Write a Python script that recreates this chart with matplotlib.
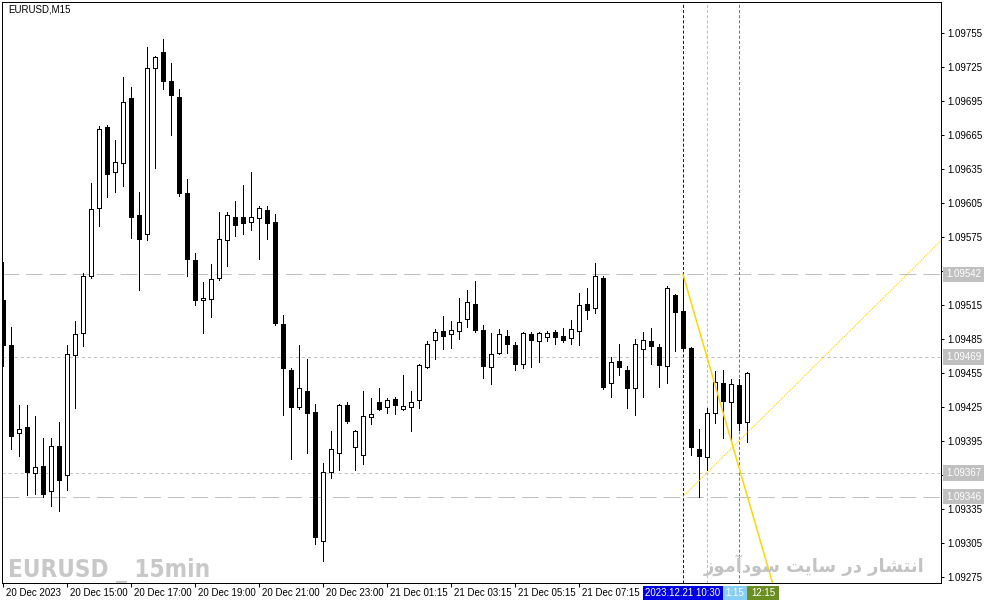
import matplotlib
matplotlib.use('Agg')
import matplotlib.pyplot as plt
import matplotlib.transforms as mtransforms
from matplotlib.patches import Rectangle
from matplotlib import font_manager
from matplotlib.font_manager import FontProperties
import numpy as np

# ---------------- data ----------------
opens = [
1.09519,1.09480,1.09402,1.09407,1.09367,1.09373,1.09351,1.09391,1.09365,1.09471,
1.09490,1.09541,1.09601,1.09672,1.09632,1.09640,1.09698,1.09594,1.09578,1.09724,
1.09738,1.09713,1.09699,1.09614,1.09555,1.09519,1.09520,1.09539,1.09572,1.09593,
1.09593,1.09588,1.09592,1.09599,1.09588,1.09498,1.09458,1.09425,1.09439,1.09421,
1.09307,1.09368,1.09384,1.09427,1.09390,1.09383,1.09416,1.09429,1.09425,1.09432,
1.09423,1.09425,1.09431,1.09460,1.09484,1.09492,1.09489,1.09492,1.09503,1.09516,
1.09493,1.09460,1.09473,1.09488,1.09480,1.09463,1.09489,1.09483,1.09487,1.09491,
1.09488,1.09486,1.09492,1.09516,1.09512,1.09539,1.09446,1.09466,1.09458,1.09442,
1.09476,1.09483,1.09478,1.09461,1.09524,1.09510,1.09477,1.09388,1.09381,1.09420,
1.09446,1.09429,1.09444,1.09412]
highs = [
1.09553,1.09496,1.09427,1.09427,1.09417,1.09398,1.09398,1.09412,1.09480,1.09501,
1.09543,1.09623,1.09673,1.09674,1.09661,1.09716,1.09707,1.09615,1.09743,1.09735,
1.09750,1.09729,1.09706,1.09626,1.09561,1.09535,1.09551,1.09597,1.09597,1.09607,
1.09621,1.09632,1.09602,1.09602,1.09595,1.09506,1.09459,1.09480,1.09467,1.09428,
1.09376,1.09404,1.09428,1.09429,1.09405,1.09439,1.09433,1.09442,1.09433,1.09434,
1.09453,1.09439,1.09463,1.09483,1.09494,1.09505,1.09501,1.09521,1.09528,1.09536,
1.09497,1.09490,1.09494,1.09493,1.09482,1.09491,1.09491,1.09491,1.09492,1.09493,
1.09495,1.09502,1.09526,1.09530,1.09552,1.09541,1.09469,1.09481,1.09461,1.09485,
1.09491,1.09495,1.09481,1.09532,1.09525,1.09542,1.09478,1.09406,1.09424,1.09457,
1.09458,1.09450,1.09450,1.09456]
lows = [
1.09461,1.09388,1.09382,1.09347,1.09348,1.09346,1.09338,1.09333,1.09352,1.09424,
1.09479,1.09539,1.09585,1.09610,1.09615,1.09620,1.09574,1.09528,1.09572,1.09636,
1.09706,1.09665,1.09611,1.09541,1.09515,1.09490,1.09504,1.09537,1.09549,1.09576,
1.09578,1.09581,1.09556,1.09573,1.09497,1.09418,1.09379,1.09423,1.09384,1.09304,
1.09289,1.09362,1.09369,1.09411,1.09369,1.09375,1.09410,1.09422,1.09420,1.09419,
1.09422,1.09404,1.09424,1.09459,1.09467,1.09476,1.09477,1.09485,1.09496,1.09491,
1.09451,1.09445,1.09472,1.09473,1.09458,1.09459,1.09460,1.09465,1.09483,1.09481,
1.09482,1.09481,1.09480,1.09503,1.09508,1.09441,1.09434,1.09453,1.09424,1.09418,
1.09434,1.09463,1.09443,1.09446,1.09474,1.09475,1.09383,1.09346,1.09369,1.09411,
1.09398,1.09396,1.09405,1.09394]
closes = [
1.09480,1.09399,1.09406,1.09368,1.09372,1.09348,1.09391,1.09361,1.09472,1.09489,
1.09541,1.09600,1.09670,1.09631,1.09641,1.09694,1.09593,1.09573,1.09724,1.09734,
1.09713,1.09700,1.09614,1.09556,1.09519,1.09521,1.09538,1.09573,1.09594,1.09586,
1.09587,1.09593,1.09601,1.09587,1.09499,1.09459,1.09425,1.09442,1.09420,1.09310,
1.09368,1.09388,1.09427,1.09413,1.09404,1.09417,1.09419,1.09423,1.09431,1.09427,
1.09426,1.09429,1.09462,1.09481,1.09491,1.09488,1.09493,1.09500,1.09518,1.09493,
1.09461,1.09472,1.09489,1.09481,1.09463,1.09490,1.09484,1.09490,1.09490,1.09487,
1.09484,1.09494,1.09515,1.09511,1.09541,1.09443,1.09465,1.09460,1.09442,1.09481,
1.09484,1.09479,1.09462,1.09530,1.09509,1.09477,1.09390,1.09382,1.09420,1.09447,
1.09430,1.09445,1.09411,1.09455]

time_tick_idx = [0, 8, 16, 24, 32, 40, 48, 56, 64, 72]
time_tick_labels = ["20 Dec 2023", "20 Dec 15:00", "20 Dec 17:00", "20 Dec 19:00",
                    "20 Dec 21:00", "20 Dec 23:00", "21 Dec 01:15", "21 Dec 03:15",
                    "21 Dec 05:15", "21 Dec 07:15"]
price_ticks = [1.09275, 1.09305, 1.09335, 1.09365, 1.09395, 1.09425, 1.09455, 1.09485,
               1.09515, 1.09545, 1.09575, 1.09605, 1.09635, 1.09665, 1.09695, 1.09725, 1.09755]
price_tick_labels = ["1.09275", "1.09305", "1.09335", "", "1.09395", "1.09425", "1.09455",
                     "1.09485", "1.09515", "", "1.09575", "1.09605", "1.09635", "1.09665",
                     "1.09695", "1.09725", "1.09755"]

level_long = [1.09542, 1.09346]      # long-dash levels
level_short = [1.09469, 1.09367]     # short-dash levels
vline_idx = [85, 88, 92]             # 10:30, 11:15, 12:15
vline_colors = ['#0000E6', '#87CEFA', '#6B8E23']
vline_texts = ["2023.12.21 10:30", "1:15", "12:15"]
# trend lines: anchor at 10:30, second point at 11:15
tl_down = [(85, 1.09542), (88, 1.09469)]
tl_up = [(85, 1.09346), (88, 1.09367)]

title_text = "EURUSD,M15"
wm_text = "EURUSD _ 15min"
fa_text = "انتشار در سایت سودآموز"

# ---------------- helpers ----------------
FORMS = {
    'ا': ('\uFE8D', '\uFE8E', None, None),
    'آ': ('\uFE81', '\uFE82', None, None),
    'ن': ('\uFEE5', '\uFEE6', '\uFEE7', '\uFEE8'),
    'ت': ('\uFE95', '\uFE96', '\uFE97', '\uFE98'),
    'ش': ('\uFEB5', '\uFEB6', '\uFEB7', '\uFEB8'),
    'ر': ('\uFEAD', '\uFEAE', None, None),
    'د': ('\uFEA9', '\uFEAA', None, None),
    'س': ('\uFEB1', '\uFEB2', '\uFEB3', '\uFEB4'),
    'ی': ('\uFBFC', '\uFBFD', '\uFBFE', '\uFBFF'),
    'و': ('\uFEED', '\uFEEE', None, None),
    'م': ('\uFEE1', '\uFEE2', '\uFEE3', '\uFEE4'),
    'ز': ('\uFEAF', '\uFEB0', None, None),
}
def shape_rtl(s):
    out = []
    for i, ch in enumerate(s):
        if ch not in FORMS:
            out.append(ch)
            continue
        f = FORMS[ch]
        prev = s[i - 1] if i > 0 else ''
        nxt = s[i + 1] if i + 1 < len(s) else ''
        jp = prev in FORMS and FORMS[prev][2] is not None
        jn = nxt in FORMS and f[2] is not None
        if jp and jn:
            out.append(f[3])
        elif jp:
            out.append(f[1])
        elif jn:
            out.append(f[2])
        else:
            out.append(f[0])
    return ''.join(reversed(out))

def is_bold(fe):
    w = fe.weight
    if isinstance(w, str):
        return w in ('bold', 'heavy', 'black', 'extra bold', 'demibold', 'semibold')
    return w >= 600

wm_prop = None
for fe in font_manager.fontManager.ttflist:
    cond = ('Narrow' in fe.name or 'Condensed' in fe.name or
            str(fe.stretch) in ('condensed', 'semi-condensed', 'extra-condensed'))
    if cond and is_bold(fe) and fe.style == 'normal':
        wm_prop = FontProperties(fname=fe.fname)
        break
if wm_prop is None:
    wm_prop = FontProperties(family='Liberation Sans', weight='bold')

plt.rcParams['font.family'] = ['Liberation Sans', 'DejaVu Sans']
plt.rcParams['lines.scale_dashes'] = False

W, H = 987, 605
PX = 0.72  # one pixel in points at dpi 100
fig = plt.figure(figsize=(W / 100, H / 100), dpi=100)
fig.patch.set_facecolor('white')
ax = fig.add_axes([2 / W, (H - 583) / H, (941 - 2) / W, (583 - 2) / H])
ax.set_facecolor('white')

ax.set_xlim(-0.125, 117.25)
ax.set_ylim(1.092697, 1.097824)

o = np.array(opens); h = np.array(highs); l = np.array(lows); c = np.array(closes)
idx = np.arange(len(o))
up = c >= o
bottoms = np.minimum(o, c)
heights = np.maximum(np.abs(c - o), 0.000005)

ax.vlines(idx, l, h, color='black', lw=PX, zorder=3, antialiased=False)
ax.bar(idx, heights, bottom=bottoms, width=0.56,
       color=np.where(up, 'white', 'black'), edgecolor='black', linewidth=PX,
       zorder=4, antialiased=False)

# levels
for lv in level_long:
    ax.axhline(lv, color='#C0C0C0', lw=PX, ls=(0, (12.0, 5.0)), zorder=1)
for lv in level_short:
    ax.axhline(lv, color='#C0C0C0', lw=PX, ls=(0, (2.2, 2.2)), zorder=1)

# vertical lines
for vx, vc in zip(vline_idx, vline_colors):
    ax.axvline(vx, color=vc, lw=PX, ls=(0, (2.2, 1.5)), zorder=2)

# trend lines
xl = ax.get_xlim(); yl = ax.get_ylim()
(x0, y0), (x1, y1) = tl_down
s = (y1 - y0) / (x1 - x0)
xe = x0 + (yl[0] - y0) / s
ax.plot([x0, xe], [y0, yl[0]], color='#FFD700', lw=1.1, zorder=5, clip_on=True)
(x0, y0), (x1, y1) = tl_up
s = (y1 - y0) / (x1 - x0)
ye = y0 + s * (xl[1] - x0)
ax.plot([x0, xl[1]], [y0, ye], color='#FFD700', lw=0.85, ls=(0, (0.8, 0.8)), zorder=5)

# spines
for sp in ax.spines.values():
    sp.set_color('black'); sp.set_linewidth(PX)

# y axis on right
ax.yaxis.tick_right()
ax.set_yticks(price_ticks)
ax.set_yticklabels(price_tick_labels)
ax.tick_params(axis='y', length=3 * PX, width=PX, pad=2.5, labelsize=7, colors='black')

# x axis ticks
ax.set_xticks(time_tick_idx)
ax.set_xticklabels([])
ax.tick_params(axis='x', length=4 * PX, width=PX, direction='out')
xtr = mtransforms.blended_transform_factory(ax.transData, fig.transFigure)
for ti, tl in zip(time_tick_idx, time_tick_labels):
    ax.text(ti + 3 / 8, (H - 593) / H, tl, transform=xtr, ha='left', va='center',
            fontsize=7, color='black', clip_on=False)

# highlighted price labels
ytr = mtransforms.blended_transform_factory(fig.transFigure, ax.transData)
for lv in level_long + level_short:
    fig.text(946 / W, lv, f"{lv:.5f}", transform=ytr, ha='left', va='center',
             fontsize=7, color='white', zorder=10,
             bbox=dict(boxstyle='square,pad=0.3', fc='#C0C0C0', ec='none'))

# bottom time labels of vertical lines
box_spans = [(80.0, 90.0), (90.0, 93.0), (93.0, 97.0)]
for (a, b), col, txt in zip(box_spans, vline_colors, vline_texts):
    r = Rectangle((a, (H - 600) / H), b - a, 14 / H, transform=xtr, fc=col, ec='none',
                  zorder=10, clip_on=False)
    fig.add_artist(r)
    fig.text((a + b) / 2, (H - 593) / H, txt, transform=xtr, ha='center', va='center',
             fontsize=7, color='white', zorder=11)

# title and watermarks
fig.text(8 / W, (H - 10) / H, title_text, fontsize=7, color='black', ha='left', va='center')
wm = fig.text(8 / W, (H - 577) / H, wm_text, fontproperties=wm_prop, color='#C8C8C8',
              ha='left', va='baseline', zorder=0)
wm.set_fontsize(21)
fa = fig.text(925 / W, (H - 572) / H, shape_rtl(fa_text), fontsize=15, fontweight='bold',
              family=['DejaVu Sans'], color='#C3C3C3', ha='right', va='baseline', zorder=0)

renderer = fig.canvas.get_renderer()
for t, target in ((wm, 202.0), (fa, 220.0)):
    w = t.get_window_extent(renderer).width
    t.set_fontsize(t.get_fontsize() * target / w)

fig.savefig('out.png', dpi=100, facecolor='white')
